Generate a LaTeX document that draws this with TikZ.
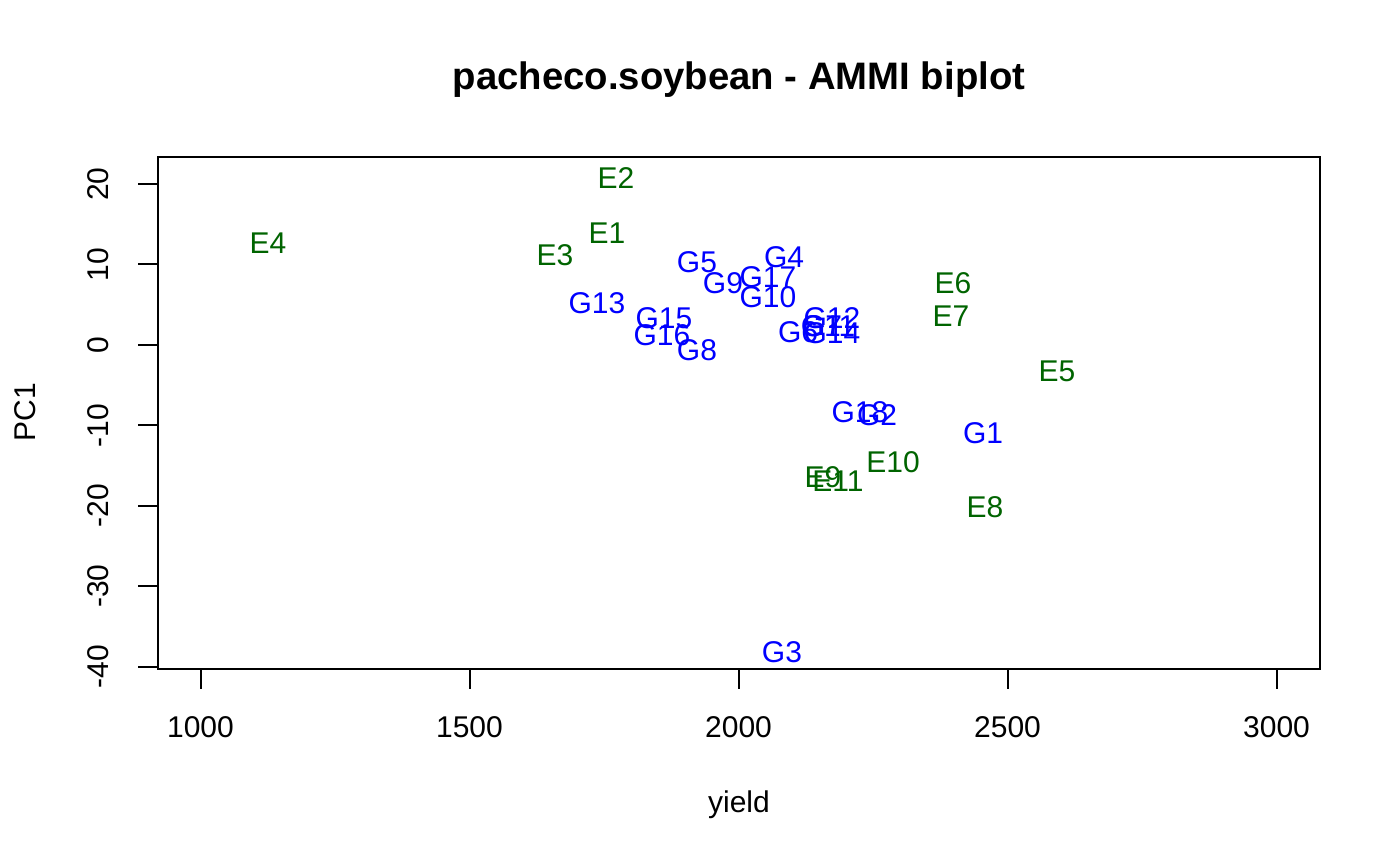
\documentclass[tikz,border=0pt]{standalone}
\usepackage{fontspec}
\setmainfont{Liberation Sans}
\definecolor{rdarkgreen}{HTML}{006400}
\definecolor{rblue}{HTML}{0000FF}
\tikzset{
  axisline/.style={line width=2pt, black},
  ticklab/.style={inner sep=0pt, font=\fontsize{30}{36}\selectfont},
  envlab/.style={inner sep=0pt, text=rdarkgreen, font=\fontsize{30}{36}\selectfont},
  genlab/.style={inner sep=0pt, text=rblue, font=\fontsize{30}{36}\selectfont},
  titlelab/.style={inner sep=0pt, font=\fontsize{38.3}{44}\selectfont\bfseries},
}
\begin{document}
\begin{tikzpicture}[x=1pt,y=-1pt]
\useasboundingbox (0,0) rectangle (1400,866);
\fill[white] (0,0) rectangle (1400,866);
% title and axis titles
\node[titlelab] (title) at (739,80) {pacheco.soybean - AMMI biplot};
\node[ticklab] (xtitle) at (739,805) {yield};
\node[ticklab, rotate=90] (ytitle) at (25,412) {PC1};
% plot box
\draw[axisline] (157.5,157.5) rectangle (1320,669);
% x ticks
\foreach \v/\px in {1000/200.5,1500/469.5,2000/738.5,2500/1007.5,3000/1276.5}{
  \coordinate (xt\v) at (\px,669);
  \coordinate (xb\v) at (\px,689);
  \draw[axisline] (xt\v) -- (xb\v);
  \node[ticklab] (xl\v) at (\px,727) {\v};
}
% y ticks
\foreach \v/\py [count=\i] in {20/184,10/264.5,0/345,-10/425.4,-20/505.9,-30/586.3,-40/666.8}{
  \coordinate (yt\i) at (157.5,\py);
  \coordinate (yb\i) at (137.5,\py);
  \draw[axisline] (yt\i) -- (yb\i);
  \node[ticklab, rotate=90] (yl\i) at (98,\py) {\v};
}
% environments
\node[envlab] (E4) at (268,243) {E4};
\node[envlab] (E2) at (616,178) {E2};
\node[envlab] (E1) at (607,233) {E1};
\node[envlab] (E3) at (555,255) {E3};
\node[envlab] (E6) at (953,283) {E6};
\node[envlab] (E7) at (951,316) {E7};
\node[envlab] (E5) at (1057,371) {E5};
\node[envlab] (E10) at (893,462) {E10};
\node[envlab] (E9) at (823,477) {E9};
\node[envlab] (E11) at (838,481) {E11};
\node[envlab] (E8) at (985,507) {E8};
% genotypes
\node[genlab] (G5) at (697,262) {G5};
\node[genlab] (G4) at (784,257) {G4};
\node[genlab] (G9) at (723,283) {G9};
\node[genlab] (G17) at (768,277) {G17};
\node[genlab] (G10) at (768,297) {G10};
\node[genlab] (G13) at (597,303) {G13};
\node[genlab] (G15) at (664,318) {G15};
\node[genlab] (G16) at (662,335) {G16};
\node[genlab] (G8) at (697,350) {G8};
\node[genlab] (G6) at (798,332) {G6};
\node[genlab] (G7) at (822,326) {G7};
\node[genlab] (G11) at (828,326) {G11};
\node[genlab] (G12) at (832,318) {G12};
\node[genlab] (G14) at (832,333) {G14};
\node[genlab] (G18) at (860,412) {G18};
\node[genlab] (G2) at (877,415) {G2};
\node[genlab] (G1) at (983,433) {G1};
\node[genlab] (G3) at (782,652) {G3};
\end{tikzpicture}
\end{document}
